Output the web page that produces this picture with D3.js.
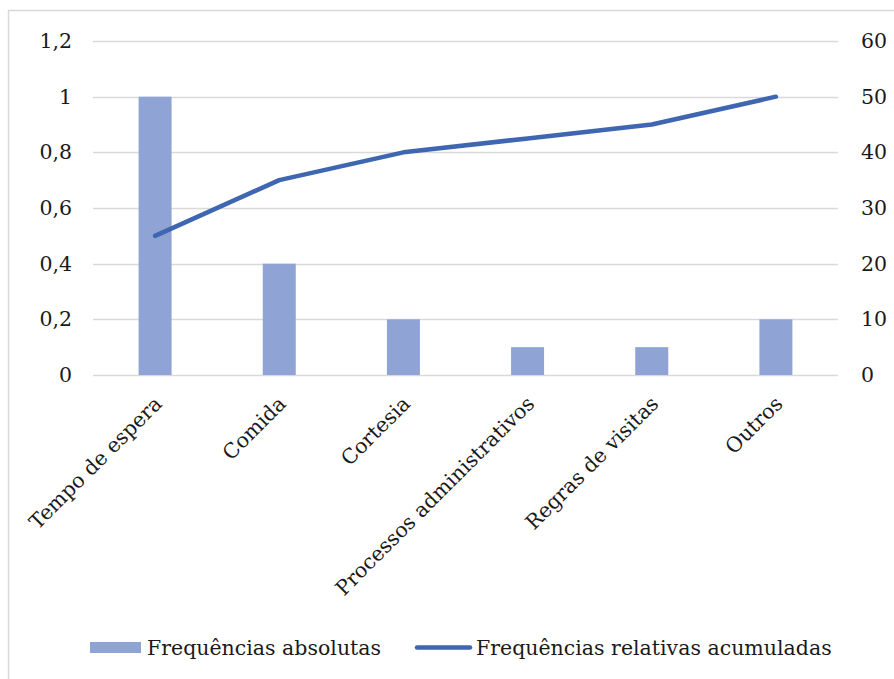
<!DOCTYPE html>
<html>
<head>
<meta charset="utf-8">
<script src="https://cdn.jsdelivr.net/npm/d3@7"></script>
<style>
  html, body { margin: 0; padding: 0; background: #fff; }
  svg { display: block; }
  text { font-family: "DejaVu Serif", Georgia, serif; fill: #1a1a1a; }
</style>
</head>
<body>
<div id="chart"></div>
<script>
// Complaint categories (Pareto chart)
const categories = ["Tempo de espera", "Comida", "Cortesia", "Processos administrativos", "Regras de visitas", "Outros"];
// Absolute frequencies (left axis)
const absoluteFreq = [1, 0.4, 0.2, 0.1, 0.1, 0.2];
// Cumulative relative frequencies (right axis)
const cumulativeFreq = [25, 35, 40, 42.5, 45, 50];
// Axis ticks
const leftTicks = [0, 0.2, 0.4, 0.6, 0.8, 1, 1.2];
const rightTicks = [0, 10, 20, 30, 40, 50, 60];
const seriesNames = ["Frequências absolutas", "Frequências relativas acumuladas"];

const W = 894, H = 679;
const plot = { left: 93, right: 838, top: 41, bottom: 375 };
const barColor = "#8FA4D4";
const lineColor = "#3E66B1";
const gridColor = "#d9d9d9";
const fontSize = 20.5;

const svg = d3.select("#chart").append("svg")
  .attr("width", W).attr("height", H);

// Outer chart border (extends past the right and bottom edges)
svg.append("rect")
  .attr("x", 8.5).attr("y", 10.5)
  .attr("width", W + 20).attr("height", H + 20)
  .attr("fill", "none").attr("stroke", gridColor).attr("stroke-width", 1.5);

const x = d3.scaleBand().domain(categories).range([plot.left, plot.right]).paddingInner(0).paddingOuter(0);
const yL = d3.scaleLinear().domain([0, 1.2]).range([plot.bottom, plot.top]);
const yR = d3.scaleLinear().domain([0, 60]).range([plot.bottom, plot.top]);

const fmtComma = d => d3.format("~g")(d).replace(".", ",");

// Gridlines
svg.append("g").selectAll("line").data(leftTicks).join("line")
  .attr("x1", plot.left).attr("x2", plot.right)
  .attr("y1", d => Math.round(yL(d)) + 0.5).attr("y2", d => Math.round(yL(d)) + 0.5)
  .attr("stroke", gridColor).attr("stroke-width", 1.5);

// Left axis
const leftAxis = svg.append("g")
  .attr("transform", `translate(${plot.left},0)`)
  .call(d3.axisLeft(yL).tickValues(leftTicks).tickFormat(fmtComma).tickSize(0).tickPadding(21));
leftAxis.select(".domain").remove();
leftAxis.selectAll("text").style("font-size", fontSize + "px").style("font-family", null);

// Right axis
const rightAxis = svg.append("g")
  .attr("transform", `translate(${plot.right},0)`)
  .call(d3.axisRight(yR).tickValues(rightTicks).tickSize(0).tickPadding(23));
rightAxis.select(".domain").remove();
rightAxis.selectAll("text").style("font-size", fontSize + "px").style("font-family", null);

// Bars
const barW = 33;
svg.append("g").selectAll("rect").data(categories).join("rect")
  .attr("x", (d) => x(d) + x.bandwidth() / 2 - barW / 2)
  .attr("width", barW)
  .attr("y", (d, i) => yL(absoluteFreq[i]))
  .attr("height", (d, i) => yL(0) - yL(absoluteFreq[i]))
  .attr("fill", barColor);

// Cumulative line
const line = d3.line()
  .x((d, i) => x(categories[i]) + x.bandwidth() / 2)
  .y(d => yR(d));
svg.append("path").datum(cumulativeFreq)
  .attr("d", line)
  .attr("fill", "none").attr("stroke", lineColor)
  .attr("stroke-width", 4.5).attr("stroke-linecap", "round").attr("stroke-linejoin", "round");

// Category axis with rotated labels
const xAxis = svg.append("g")
  .attr("transform", `translate(0,${plot.bottom})`)
  .call(d3.axisBottom(x).tickSize(0).tickPadding(0));
xAxis.select(".domain").remove();
xAxis.selectAll("text")
  .style("font-size", fontSize + "px").style("font-family", null)
  .attr("text-anchor", "end")
  .attr("dy", null)
  .attr("transform", "translate(8,30) rotate(-45)");

// Legend
const legend = svg.append("g").attr("transform", "translate(0,647.5)");
legend.append("rect").attr("x", 90).attr("y", -5.5).attr("width", 51).attr("height", 11).attr("fill", barColor);
legend.append("text").attr("x", 147).attr("y", 0).attr("dy", "0.36em")
  .style("font-size", fontSize + "px").text(seriesNames[0]);
legend.append("line").attr("x1", 417).attr("x2", 470).attr("y1", 0).attr("y2", 0)
  .attr("stroke", lineColor).attr("stroke-width", 4.5).attr("stroke-linecap", "round");
legend.append("text").attr("x", 476).attr("y", 0).attr("dy", "0.36em")
  .style("font-size", fontSize + "px").text(seriesNames[1]);
</script>
</body>
</html>
